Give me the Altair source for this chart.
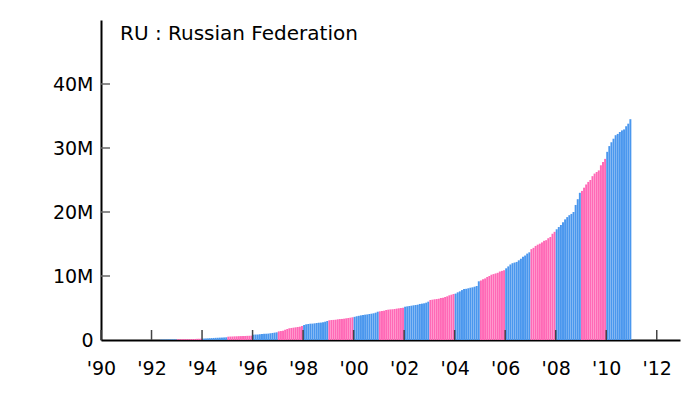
import altair as alt
import pandas as pd

# Monthly values (millions), Jan..Dec of each year
y1992 = [0, 0, 0, 0, 0.06, 0.07, 0.08, 0.08, 0.09, 0.09, 0.10, 0.10]
y1993 = [0.11, 0.11, 0.12, 0.12, 0.13, 0.13, 0.14, 0.15, 0.16, 0.18, 0.19, 0.20]
y1994 = [0.22, 0.24, 0.26, 0.28, 0.30, 0.32, 0.34, 0.35, 0.37, 0.38, 0.40, 0.42]
y1995 = [0.52, 0.54, 0.55, 0.57, 0.58, 0.60, 0.61, 0.62, 0.63, 0.65, 0.66, 0.68]
y1996 = [0.83, 0.85, 0.86, 0.90, 0.94, 0.97, 0.98, 1.00, 1.05, 1.10, 1.15, 1.20]
y1997 = [1.35, 1.40, 1.45, 1.60, 1.72, 1.83, 1.88, 1.93, 1.98, 2.03, 2.08, 2.19]
y1998 = [2.34, 2.45, 2.50, 2.55, 2.56, 2.60, 2.66, 2.70, 2.72, 2.76, 2.86, 2.97]
y1999 = [3.08, 3.12, 3.14, 3.17, 3.23, 3.27, 3.29, 3.33, 3.39, 3.44, 3.49, 3.55]
y2000 = [3.62, 3.70, 3.78, 3.85, 3.90, 3.96, 4.00, 4.06, 4.11, 4.17, 4.27, 4.42]
y2001 = [4.48, 4.53, 4.58, 4.69, 4.74, 4.78, 4.80, 4.84, 4.90, 4.95, 5.00, 5.05]
y2002 = [5.20, 5.26, 5.31, 5.36, 5.42, 5.47, 5.52, 5.63, 5.68, 5.73, 5.83, 5.99]
y2003 = [6.25, 6.30, 6.36, 6.40, 6.45, 6.56, 6.60, 6.72, 6.83, 6.98, 7.08, 7.19]
y2004 = [7.25, 7.45, 7.60, 7.80, 7.97, 8.00, 8.08, 8.17, 8.23, 8.33, 8.44, 9.17]
y2005 = [9.30, 9.48, 9.62, 9.85, 10.0, 10.2, 10.3, 10.4, 10.5, 10.7, 10.8, 10.9]
y2006 = [11.2, 11.5, 11.8, 12.0, 12.1, 12.2, 12.45, 12.7, 13.0, 13.2, 13.5, 13.7]
y2007 = [14.2, 14.4, 14.7, 14.9, 15.05, 15.25, 15.5, 15.6, 15.9, 16.1, 16.6, 16.9]
y2008 = [17.3, 17.65, 17.97, 18.4, 18.85, 19.2, 19.5, 19.7, 20.0, 21.1, 22.0, 23.0]
y2009 = [23.3, 23.8, 24.3, 24.7, 25.0, 25.6, 26.0, 26.25, 26.5, 27.3, 27.8, 28.3]
y2010 = [29.4, 30.3, 30.9, 31.45, 32.0, 32.2, 32.5, 32.75, 32.9, 33.4, 33.8, 34.5]

years = list(range(1992, 2011))
series = [y1992, y1993, y1994, y1995, y1996, y1997, y1998, y1999, y2000,
          y2001, y2002, y2003, y2004, y2005, y2006, y2007, y2008, y2009, y2010]

x_tick_years = list(range(1990, 2013, 2))
y_tick_values = [10, 20, 30, 40]
title_text = "RU : Russian Federation"

BLUE = "#4a97ee"
PINK = "#ff69b6"
FONT = "DejaVu Sans"

rows = []
for yr, vals in zip(years, series):
    for m, v in enumerate(vals):
        if v > 0:
            t = yr + m / 12
            rows.append({"t": t, "t2": t + 0.93 / 12, "v": v, "base": 0,
                         "c": "even" if yr % 2 == 0 else "odd"})
df = pd.DataFrame(rows)

xscale = alt.Scale(domain=[1990, 2012.92], nice=False, zero=False)
yscale = alt.Scale(domain=[0, 50], nice=False)

bars = alt.Chart(df).mark_bar().encode(
    x=alt.X("t:Q", scale=xscale,
            axis=alt.Axis(values=x_tick_years, ticks=False, grid=False,
                          labelExpr="\"'\" + substring(toString(datum.value), 2)",
                          labelPadding=19, labelFontSize=19, labelFont=FONT,
                          labelColor="black", labelFlush=False, labelOverlap=False,
                          domainColor="black", domainWidth=2, title=None)),
    x2="t2:Q",
    y=alt.Y("v:Q", scale=yscale,
            axis=alt.Axis(values=[0, 10, 20, 30, 40], ticks=False, grid=False,
                          labelExpr="datum.value == 0 ? '0' : datum.value + 'M'",
                          labelPadding=8, labelFontSize=19, labelFont=FONT,
                          labelColor="black", labelFlush=False, labelOverlap=False,
                          domainColor="black", domainWidth=2, title=None)),
    y2="base:Q",
    color=alt.Color("c:N", scale=alt.Scale(domain=["even", "odd"], range=[BLUE, PINK]),
                    legend=None),
)

ytick_df = pd.DataFrame({"v": y_tick_values})
yticks = alt.Chart(ytick_df).mark_rule(color="#666666", strokeWidth=1.5).encode(
    y=alt.Y("v:Q", scale=yscale),
    x=alt.value(0),
    x2=alt.value(9),
)

xtick_df = pd.DataFrame({"t": x_tick_years})
xticks = alt.Chart(xtick_df).mark_rule(color="#444444", strokeWidth=1.5).encode(
    x=alt.X("t:Q", scale=xscale),
    y=alt.value(310),
    y2=alt.value(320),
)

title_df = pd.DataFrame({"label": [title_text]})
title = alt.Chart(title_df).mark_text(
    align="left", baseline="alphabetic", font=FONT, fontSize=20, color="black"
).encode(
    text="label:N",
    x=alt.value(19),
    y=alt.value(19.5),
)

chart = alt.layer(bars, xticks, yticks, title).properties(
    width=579,
    height=320,
    autosize=alt.AutoSizeParams(type="none"),
    padding={"left": 93, "top": 12, "right": 10, "bottom": 52},
).configure_view(strokeWidth=0)

chart.save("out.html", embed_options={"renderer": "svg", "actions": False})
